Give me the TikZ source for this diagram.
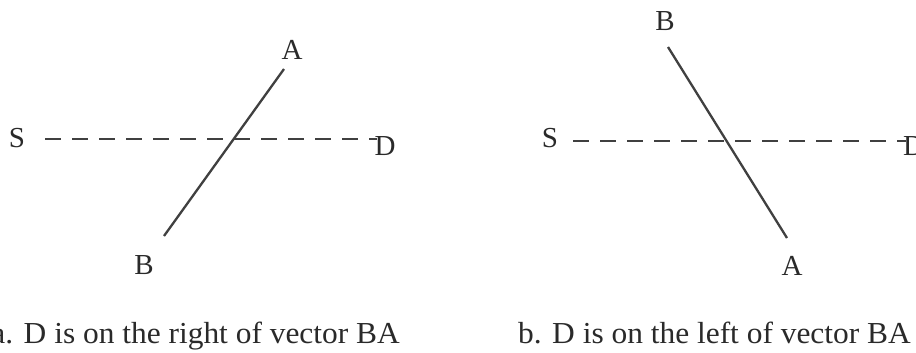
\documentclass[tikz,border=0pt]{standalone}
\usepackage{fontspec}
\setmainfont{Liberation Serif}
\definecolor{ink}{HTML}{2A2A2A}
\definecolor{linegray}{HTML}{404040}
\begin{document}
\begin{tikzpicture}[x=1pt,y=-1pt,
  lbl/.style={inner sep=0pt,text=ink,font=\fontsize{29}{34}\selectfont},
  captext/.style={inner sep=0pt,text=ink,xscale=1.03,font=\fontsize{30.5}{36}\selectfont},
  vec/.style={draw=linegray,line width=2.3pt},
  dashline/.style={draw=linegray,line width=2.8pt,dash pattern=on 16pt off 11pt}]
\useasboundingbox (0,0) rectangle (916,353);
\clip (0,0) rectangle (916,353);
\fill[white] (0,0) rectangle (916,353);
% ---- panel a ----
\node[lbl] (Sa) at (17,138) {S};
\node[lbl] (Da) at (385,146) {D};
\node[lbl] (Aa) at (292,50) {A};
\node[lbl] (Ba) at (144,265) {B};
\coordinate (sa) at (45,139);
\coordinate (da) at (377,139);
\coordinate (aa) at (284,69);
\coordinate (ba) at (164,236);
\draw[dashline] (sa) -- (da);
\draw[vec] (ba) -- (aa);
\node[captext,anchor=base east] (capa) at (400,343) {a. D is on the right of vector BA};
% ---- panel b ----
\node[lbl] (Sb) at (550,138) {S};
\node[lbl,anchor=west] (Db) at (903,146) {D};
\node[lbl] (Ab) at (792,266) {A};
\node[lbl] (Bb) at (665,21) {B};
\coordinate (sb) at (573,141);
\coordinate (db) at (906,141);
\coordinate (ab) at (787,238);
\coordinate (bb) at (668,47);
\draw[dashline] (sb) -- (db);
\draw[vec] (bb) -- (ab);
\node[captext,anchor=base west] (capb) at (518,343) {b. D is on the left of vector BA};
\end{tikzpicture}
\end{document}
